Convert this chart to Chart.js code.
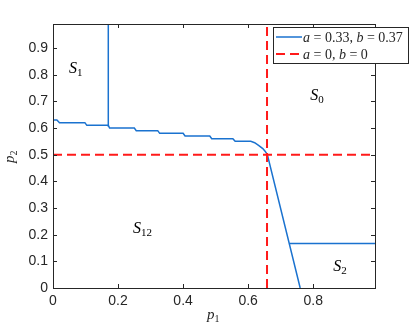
<!DOCTYPE html>
<html>
<head>
<meta charset="utf-8">
<script src="https://cdn.jsdelivr.net/npm/chart.js@4"></script>
<style>
  body { margin: 0; background: #fff; }
  #wrap { width: 415px; height: 328px; }
</style>
</head>
<body>
<div id="wrap"><canvas id="chart" width="415" height="328"></canvas></div>
<script>
// axes
const xTicks = [0, 0.2, 0.4, 0.6, 0.8]
const yTicks = [0, 0.1, 0.2, 0.3, 0.4, 0.5, 0.6, 0.7, 0.8, 0.9]
const axisMax = 0.99

// boundary a = 0.33, b = 0.37
const curveX = [0, 0.012, 0.02, 0.098, 0.104, 0.170, 0.174, 0.250, 0.256, 0.322, 0.328, 0.400, 0.406, 0.482, 0.488, 0.553, 0.560, 0.608, 0.620, 0.632, 0.645, 0.652, 0.659, 0.760]
const curveY = [0.63, 0.63, 0.62, 0.62, 0.61, 0.61, 0.60, 0.60, 0.59, 0.59, 0.58, 0.58, 0.57, 0.57, 0.56, 0.56, 0.55, 0.55, 0.545, 0.535, 0.523, 0.513, 0.50, 0]
const s1EdgeX = [0.170, 0.170]
const s1EdgeY = [0.605, 0.99]
const s2EdgeX = [0.727, 0.99]
const s2EdgeY = [0.167, 0.167]

// boundary a = 0, b = 0
const redVX = [0.658, 0.658]
const redVY = [0, 0.99]
const redHX = [0, 0.99]
const redHY = [0.5, 0.5]

// region labels [name, subscript, x, y]
const regionLabels = [
  ['S', '1', 0.049, 0.805],
  ['S', '0', 0.791, 0.704],
  ['S', '12', 0.246, 0.206],
  ['S', '2', 0.862, 0.064],
]

const blue = '#1a72cf'
const red = '#ff1a1a'
const axisColor = '#262626'
const serif = "'Liberation Serif', 'DejaVu Serif', serif"
const sans = "'Liberation Sans', Arial, sans-serif"

function pts(xs, ys) {
  return xs.map((x, i) => ({ x: x, y: ys[i] }))
}

function line(xs, ys, color, dash, order) {
  return {
    data: pts(xs, ys),
    showLine: true,
    borderColor: color,
    borderWidth: dash ? 2 : 1.5,
    borderDash: dash || [],
    pointRadius: 0,
    fill: false,
    tension: 0,
    order: order,
  }
}

function drawRich(ctx, parts, x, y) {
  parts.forEach((p) => {
    ctx.font = p[1]
    ctx.fillText(p[0], x, y + (p[2] || 0))
    x += ctx.measureText(p[0]).width
  })
}

// box, inner ticks, labels, legend
const decor = {
  id: 'decor',
  afterDraw(chart) {
    const ctx = chart.ctx
    const a = chart.chartArea
    const sx = chart.scales.x
    const sy = chart.scales.y
    ctx.save()
    ctx.strokeStyle = axisColor
    ctx.lineWidth = 1
    ctx.strokeRect(a.left + 0.5, a.top + 0.5, a.right - a.left, a.bottom - a.top)
    ctx.beginPath()
    xTicks.forEach((v) => {
      const px = Math.round(sx.getPixelForValue(v)) + 0.5
      ctx.moveTo(px, a.bottom); ctx.lineTo(px, a.bottom - 4)
      ctx.moveTo(px, a.top); ctx.lineTo(px, a.top + 4)
    })
    yTicks.forEach((v) => {
      const py = Math.round(sy.getPixelForValue(v)) + 0.5
      ctx.moveTo(a.left, py); ctx.lineTo(a.left + 4, py)
      ctx.moveTo(a.right, py); ctx.lineTo(a.right - 4, py)
    })
    ctx.stroke()

    ctx.fillStyle = '#000'
    ctx.textBaseline = 'alphabetic'
    regionLabels.forEach((r) => {
      drawRich(ctx, [
        [r[0], 'italic 16px ' + serif],
        [r[1], '11px ' + serif, 3],
      ], sx.getPixelForValue(r[2]), sy.getPixelForValue(r[3]))
    })

    // axis titles
    ctx.fillStyle = axisColor
    const cx = (a.left + a.right) / 2
    drawRich(ctx, [['p', 'italic 15px ' + serif], ['1', '10px ' + serif, 3]], cx - 7, 319)
    ctx.save()
    ctx.translate(14, (a.top + a.bottom) / 2 + 7)
    ctx.rotate(-Math.PI / 2)
    drawRich(ctx, [['p', 'italic 15px ' + serif], ['2', '10px ' + serif, 3]], 0, 0)
    ctx.restore()

    // legend
    const lx = 273, ly = 27, lw = 135, lh = 36
    ctx.fillStyle = '#fff'
    ctx.fillRect(lx, ly, lw, lh)
    ctx.strokeStyle = axisColor
    ctx.strokeRect(lx + 0.5, ly + 0.5, lw, lh)
    const rows = [
      [blue, [], [['a', 'italic 14px ' + serif], [' = 0.33, ', '14px ' + serif], ['b', 'italic 14px ' + serif], [' = 0.37', '14px ' + serif]]],
      [red, [9, 5], [['a', 'italic 14px ' + serif], [' = 0, ', '14px ' + serif], ['b', 'italic 14px ' + serif], [' = 0', '14px ' + serif]]],
    ]
    rows.forEach((row, i) => {
      const yy = ly + 10 + i * 17
      ctx.strokeStyle = row[0]
      ctx.lineWidth = row[1].length ? 2 : 1.5
      ctx.setLineDash(row[1])
      ctx.beginPath()
      ctx.moveTo(lx + 3, yy)
      ctx.lineTo(lx + 29, yy)
      ctx.stroke()
      ctx.setLineDash([])
      ctx.fillStyle = '#262626'
      drawRich(ctx, row[2], lx + 30, yy + 5)
    })
    ctx.restore()
  },
}

new Chart(document.getElementById('chart'), {
  type: 'scatter',
  data: {
    datasets: [
      line(curveX, curveY, blue, null, 2),
      line(s1EdgeX, s1EdgeY, blue, null, 2),
      line(s2EdgeX, s2EdgeY, blue, null, 2),
      line(redVX, redVY, red, [9, 5], 1),
      line(redHX, redHY, red, [9, 5], 1),
    ],
  },
  options: {
    responsive: false,
    animation: false,
    layout: { padding: { left: 0, top: 24, right: 40, bottom: 0 } },
    plugins: {
      legend: { display: false },
      tooltip: { enabled: false },
    },
    scales: {
      x: {
        type: 'linear',
        min: 0,
        max: axisMax,
        grid: { display: false, drawTicks: false },
        border: { display: false },
        afterBuildTicks: (s) => { s.ticks = xTicks.map((v) => ({ value: v })) },
        afterFit: (s) => { s.height = 40 },
        ticks: {
          padding: 5,
          color: axisColor,
          font: { family: sans, size: 14 },
          callback: (v) => String(v),
        },
      },
      y: {
        type: 'linear',
        min: 0,
        max: axisMax,
        grid: { display: false, drawTicks: false },
        border: { display: false },
        afterBuildTicks: (s) => { s.ticks = yTicks.map((v) => ({ value: v })) },
        afterFit: (s) => { s.width = 53 },
        ticks: {
          padding: 5,
          color: axisColor,
          font: { family: sans, size: 14 },
          callback: (v) => String(v),
        },
      },
    },
  },
  plugins: [decor],
})
</script>
</body>
</html>
